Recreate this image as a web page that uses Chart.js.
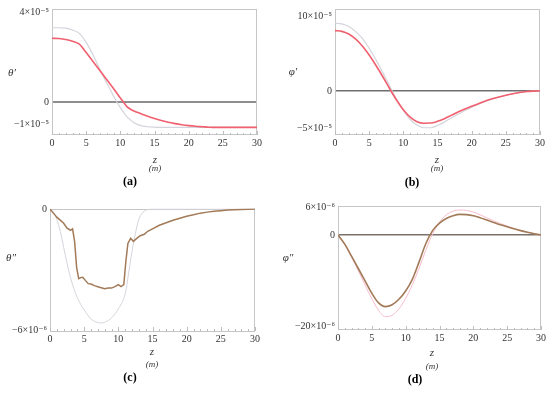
<!DOCTYPE html>
<html><head><meta charset="utf-8">
<script src="https://cdn.jsdelivr.net/npm/chart.js@4/dist/chart.umd.min.js"></script>
<style>
html,body{margin:0;padding:0;background:#fff;}
#wrap{position:relative;width:550px;height:396px;overflow:hidden;background:#fff;}
canvas{position:absolute;}
</style></head><body>
<div id="wrap">
<canvas id="ca" width="275" height="196" style="left:0;top:0"></canvas>
<canvas id="cb" width="275" height="196" style="left:275px;top:0"></canvas>
<canvas id="cc" width="275" height="200" style="left:0;top:196px"></canvas>
<canvas id="cd" width="275" height="200" style="left:275px;top:196px"></canvas>
</div>
<script>
// ---------- shared x axis ----------
const xTicks = [0, 5, 10, 15, 20, 25, 30];

// ---------- (a) theta' , values in units of 1e-5 ----------
const zA = [0,1,2,3,4,5,6,7,8,9,10,10.5,11,11.5,12,13,14,15,16,17,18,19,20,21,22,23,24,25,26,27,28,29,30];
const thetaP_num = [2.83,2.82,2.78,2.70,2.57,2.2,1.8,1.4,1.0,0.6,0.18,-0.02,-0.22,-0.32,-0.40,-0.52,-0.63,-0.73,-0.82,-0.90,-0.96,-1.01,-1.05,-1.08,-1.10,-1.12,-1.13,-1.13,-1.13,-1.13,-1.13,-1.13,-1.13];
const thetaP_ref = [3.3,3.3,3.28,3.2,3.05,2.65,2.1,1.45,0.85,0.27,-0.25,-0.47,-0.66,-0.8,-0.92,-1.05,-1.1,-1.12,-1.13,-1.13,-1.13,-1.13,-1.13,-1.13,-1.13,-1.13,-1.13,-1.13,-1.13,-1.13,-1.13,-1.13,-1.13];
const yTicksA = [-1, 0, 4];
const yTickLabelsA = ['\u22121\u00d710\u207b\u2075', '0', '4\u00d710\u207b\u2075'];

// ---------- (b) phi' , units of 1e-5 ----------
const zB = [0,1,2,3,4,5,6,7,8,9,10,11,12,13,14,15,16,17,18,19,20,21,22,23,24,25,26,27,28,29,30];
const phiP_num = [8.05,7.95,7.6,6.95,6.0,4.8,3.4,1.9,0.3,-1.2,-2.5,-3.5,-4.1,-4.3,-4.28,-4.05,-3.7,-3.25,-2.8,-2.4,-2.05,-1.7,-1.35,-1.05,-0.8,-0.58,-0.38,-0.2,-0.08,-0.02,0];
const phiP_ref = [9.05,8.95,8.6,7.95,7.0,5.7,4.15,2.45,0.65,-1.1,-2.6,-3.8,-4.55,-4.9,-4.9,-4.6,-4.15,-3.6,-3.1,-2.6,-2.15,-1.75,-1.4,-1.08,-0.8,-0.57,-0.37,-0.2,-0.08,-0.02,0];
const yTicksB = [-5, 0, 10];
const yTickLabelsB = ['\u22125\u00d710\u207b\u2075', '0', '10\u00d710\u207b\u2075'];

// ---------- (c) theta'' , units of 1e-6 ----------
const zC = [0,0.5,1,1.5,2,2.5,3,3.3,3.6,3.9,4.2,4.5,4.8,5.2,5.6,6,6.5,7,7.5,8,8.5,9,9.5,10,10.4,10.8,11.1,11.4,11.8,12.2,12.7,13.2,13.8,14.3,15,16,17,18,19,20,21,22,23,24,25,26,27,28,29,30];
const thetaPP_num = [0,-0.2,-0.4,-0.55,-0.7,-0.95,-1.05,-0.98,-1.6,-2.9,-3.45,-3.4,-3.38,-3.55,-3.7,-3.72,-3.8,-3.85,-3.9,-3.95,-3.92,-3.92,-3.85,-3.75,-3.85,-3.75,-2.6,-1.7,-1.45,-1.6,-1.45,-1.32,-1.25,-1.1,-0.98,-0.8,-0.68,-0.55,-0.45,-0.35,-0.28,-0.2,-0.15,-0.11,-0.08,-0.05,-0.03,-0.02,-0.01,0];
const zCref = [0,0.5,1,1.5,2,2.5,3,4,5,6,7,7.5,8,9,10,11,11.5,12,12.5,13,13.5,14,15,20,25,30];
const thetaPP_ref = [0,-0.15,-0.5,-1.1,-1.9,-2.7,-3.4,-4.4,-5.0,-5.45,-5.63,-5.65,-5.62,-5.4,-4.95,-4.2,-3.2,-2.1,-1.2,-0.5,-0.2,-0.06,0,0,0,0];
const yTicksC = [-6, 0];
const yTickLabelsC = ['\u22126\u00d710\u207b\u2076', '0'];

// ---------- (d) phi'' , units of 1e-6 ----------
const zD = [0,1,2,3,4,5,6,7,8,9,10,11,12,13,14,15,16,17,18,19,20,21,22,23,24,25,26,27,28,29,30];
const phiPP_num = [0,-2.0,-4.6,-7.3,-10.0,-12.7,-14.8,-15.6,-15.2,-14.0,-12.2,-9.6,-5.8,-1.8,1.0,2.6,3.6,4.2,4.5,4.45,4.2,3.75,3.25,2.75,2.25,1.8,1.35,0.95,0.6,0.28,0];
const phiPP_ref = [0,-2.1,-4.8,-7.8,-10.9,-13.9,-16.4,-17.8,-17.5,-16.1,-13.8,-10.8,-7.2,-3.2,0.3,2.8,4.4,5.2,5.45,5.35,5.0,4.4,3.75,3.1,2.5,1.95,1.45,1.0,0.6,0.28,0];
const yTicksD = [-20, 0, 6];
const yTickLabelsD = ['\u221220\u00d710\u207b\u2076', '0', '6\u00d710\u207b\u2076'];

// ---------- helpers ----------
const SERIF = '"Liberation Serif","DejaVu Serif",serif';
function pts(zs, vs){ return zs.map((z,i)=>({x:z, y:vs[i]})); }

const decor = {
  id: 'decor',
  beforeDatasetsDraw(chart, args, o){
    const {ctx, chartArea:a} = chart;
    const xs = chart.scales.x;
    ctx.save();
    ctx.strokeStyle = '#c6c6c6';
    ctx.lineWidth = 1;
    ctx.strokeRect(Math.round(a.left)+0.5, Math.round(a.top)+0.5, Math.round(a.right-a.left)-1, Math.round(a.bottom-a.top)-1);
    ctx.strokeStyle = '#bdbdbd';
    ctx.beginPath();
    for (let z = 0; z <= 30; z += 1){
      const px = Math.round(xs.getPixelForValue(z))+0.5;
      const len = (z % 5 === 0) ? 4 : 2;
      ctx.moveTo(px, a.bottom); ctx.lineTo(px, a.bottom-len);
    }
    ctx.stroke();
    ctx.restore();
  },
  afterDraw(chart, args, o){
    const {ctx, chartArea:a} = chart;
    ctx.save();
    ctx.fillStyle = '#333';
    ctx.textAlign = 'center';
    ctx.textBaseline = 'middle';
    ctx.font = 'italic 11px ' + SERIF;
    ctx.fillText(o.yLabel, o.yLabelX, o.yLabelY);
    ctx.font = 'italic 11px ' + SERIF;
    ctx.fillText('z', o.zX, o.zY);
    ctx.font = 'italic 9px ' + SERIF;
    ctx.fillText('(m)', o.zX, o.mY);
    ctx.fillStyle = '#000';
    ctx.font = 'bold 12px ' + SERIF;
    ctx.fillText(o.panel, o.pX, o.pY);
    ctx.restore();
  }
};

function makePanel(id, p){
  new Chart(document.getElementById(id), {
    type: 'line',
    data: { datasets: p.datasets },
    options: {
      responsive: false,
      animation: false,
      events: [],
      layout: { padding: { top: p.padTop, right: p.padRight, left: 0, bottom: 0 } },
      plugins: { legend: { display: false }, tooltip: { enabled: false }, decor: p.decor },
      elements: { point: { radius: 0 } },
      scales: {
        x: {
          type: 'linear', min: 0, max: 30,
          afterFit(s){ s.height = p.hx; },
          afterBuildTicks(s){ s.ticks = xTicks.map(v=>({value:v})); },
          grid: { display: false, drawTicks: false },
          border: { display: false },
          ticks: { padding: 2, maxRotation: 0, autoSkip: false, color: '#333', font: { family: SERIF, size: 10 } }
        },
        y: {
          type: 'linear', min: p.ymin, max: p.ymax,
          afterFit(s){ s.width = p.wy; },
          afterBuildTicks(s){ s.ticks = p.yTicks.map(v=>({value:v})); },
          grid: {
            drawTicks: false,
            color: c => (c.tick && c.tick.value === 0) ? p.zeroColor : 'rgba(0,0,0,0)',
            lineWidth: p.zeroWidth
          },
          border: { display: false },
          ticks: {
            padding: 3, autoSkip: false, color: '#333', font: { family: SERIF, size: 10 },
            callback: v => { const i = p.yTicks.indexOf(v); return i >= 0 ? p.yLabels[i] : ''; }
          }
        }
      }
    },
    plugins: [decor]
  });
}

const RED = '#f0606f';
const GREY = '#d4d4dc';
const BROWN = '#a27a58';
const PINK = '#f6bccb';

makePanel('ca', {
  padTop: 9, padRight: 18, hx: 61, wy: 52,
  ymin: -1.467, ymax: 4.133, yTicks: yTicksA, yLabels: yTickLabelsA,
  zeroColor: '#8e8e8e', zeroWidth: 2,
  datasets: [
    { data: pts(zA, thetaP_num), borderColor: RED, borderWidth: 1.6, cubicInterpolationMode: 'monotone', fill: false },
    { data: pts(zA, thetaP_ref), borderColor: GREY, borderWidth: 1.2, cubicInterpolationMode: 'monotone', fill: false }
  ],
  decor: { yLabel: '\u03b8\u2032', yLabelX: 12, yLabelY: 73, zX: 155, zY: 160, mY: 169, panel: '(a)', pX: 130, pY: 182 }
});

makePanel('cb', {
  padTop: 9, padRight: 10, hx: 61, wy: 60,
  ymin: -5.87, ymax: 10.93, yTicks: yTicksB, yLabels: yTickLabelsB,
  zeroColor: '#6f6f6f', zeroWidth: 1.5,
  datasets: [
    { data: pts(zB, phiP_num), borderColor: RED, borderWidth: 1.6, cubicInterpolationMode: 'monotone', fill: false },
    { data: pts(zB, phiP_ref), borderColor: GREY, borderWidth: 1.2, cubicInterpolationMode: 'monotone', fill: false }
  ],
  decor: { yLabel: '\u03c6\u2032', yLabelX: 18, yLabelY: 72, zX: 162, zY: 160, mY: 169, panel: '(b)', pX: 137, pY: 183 }
});

makePanel('cc', {
  padTop: 12.5, padRight: 20, hx: 65, wy: 50,
  ymin: -6.05, ymax: 0.03, yTicks: yTicksC, yLabels: yTickLabelsC,
  zeroColor: '#c6c6c6', zeroWidth: 1,
  datasets: [
    { data: pts(zC, thetaPP_num), borderColor: BROWN, borderWidth: 1.5, tension: 0, fill: false },
    { data: pts(zCref, thetaPP_ref), borderColor: GREY, borderWidth: 1, cubicInterpolationMode: 'monotone', fill: false }
  ],
  decor: { yLabel: '\u03b8\u2033', yLabelX: 11, yLabelY: 62, zX: 152, zY: 156, mY: 169, panel: '(c)', pX: 130, pY: 182 }
});

makePanel('cd', {
  padTop: 10, padRight: 9, hx: 66, wy: 63,
  ymin: -20.7, ymax: 6.32, yTicks: yTicksD, yLabels: yTickLabelsD,
  zeroColor: '#7a716b', zeroWidth: 1.5,
  datasets: [
    { data: pts(zD, phiPP_num), borderColor: BROWN, borderWidth: 1.6, cubicInterpolationMode: 'monotone', fill: false },
    { data: pts(zD, phiPP_ref), borderColor: PINK, borderWidth: 1, cubicInterpolationMode: 'monotone', fill: false }
  ],
  decor: { yLabel: '\u03c6\u2033', yLabelX: 13, yLabelY: 62, zX: 157, zY: 157, mY: 171, panel: '(d)', pX: 140, pY: 184 }
});
</script>
</body></html>
